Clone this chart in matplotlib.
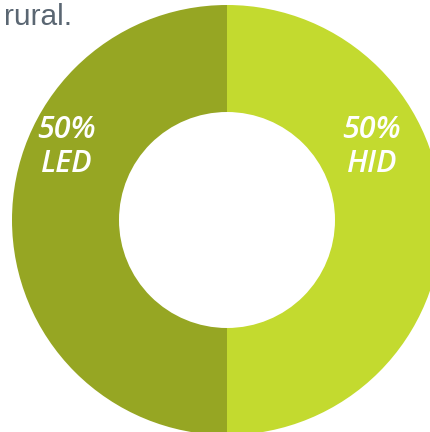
import matplotlib
matplotlib.use("Agg")
import matplotlib.pyplot as plt

categories = ["LED", "HID"]
values = [50, 50]
colors = ["#96A623", "#C3DA2F"]
label_text = ["50%\nLED", "50%\nHID"]

fig = plt.figure(figsize=(4.30, 4.32), dpi=100)
ax = fig.add_axes([0, 0, 1, 1])
wedges, _ = ax.pie(values, colors=colors, startangle=90, counterclock=True,
                   center=(227, 220), radius=215,
                   wedgeprops=dict(width=107, linewidth=0))
ax.set_xlim(0, 430)
ax.set_ylim(432, 0)
ax.set_aspect("equal")
ax.axis("off")

for x, t in [(67, label_text[0]), (372, label_text[1])]:
    ax.text(x, 147, t, color="white", fontsize=22, fontstyle="italic",
            fontweight="semibold", family="Open Sans", ha="center", va="center",
            linespacing=1.2)

ax.text(4, 25, "rural.", color="#5A6672", fontsize=21.5, family="Liberation Sans",
        ha="left", va="baseline")

fig.savefig("out.png", dpi=100)
